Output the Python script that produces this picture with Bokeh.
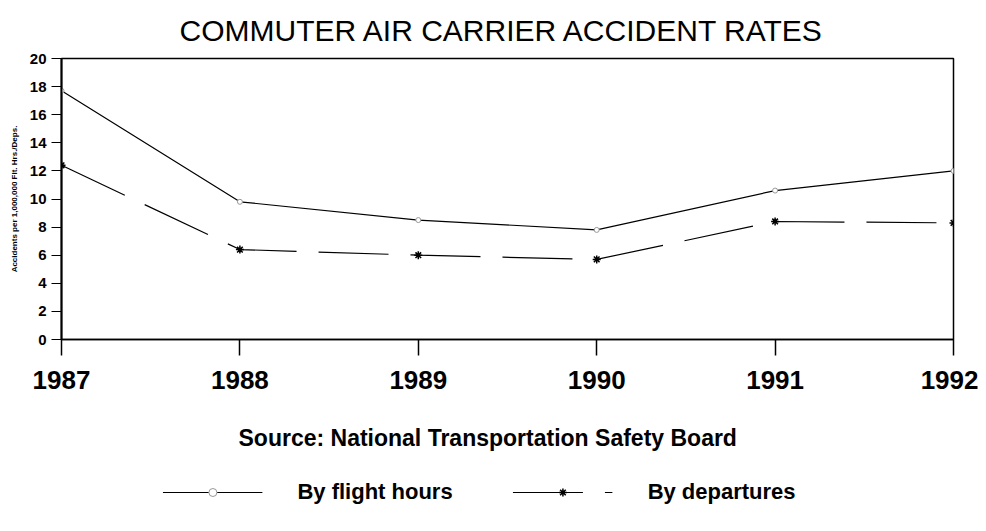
from bokeh.plotting import figure
from bokeh.layouts import column
from bokeh.models import Range1d, FixedTicker, Title, Legend, LegendItem
from bokeh.embed import file_html
from bokeh.resources import INLINE

years = [1987, 1988, 1989, 1990, 1991, 1992]
by_flight_hours = [17.7, 9.8, 8.5, 7.8, 10.6, 12.0]
by_departures = [12.4, 6.4, 6.0, 5.7, 8.4, 8.3]
y_ticks = [0, 2, 4, 6, 8, 10, 12, 14, 16, 18, 20]
series_names = ["By flight hours", "By departures"]
source_text = "Source: National Transportation Safety Board"

FONT = "Liberation Sans"

p = figure(frame_width=892, frame_height=281, output_backend="svg", toolbar_location=None,
           x_range=Range1d(1987, 1992), y_range=Range1d(0, 20),
           min_border_left=61, min_border_right=25, min_border_top=58, min_border_bottom=76)

p.title.text = "COMMUTER AIR CARRIER ACCIDENT RATES"
p.title.align = "left"
p.title.offset = 118
p.title.text_font = FONT
p.title.text_font_size = "30px"
p.title.text_line_height = 1.0
p.title.text_font_style = "normal"
p.title.text_color = "black"
p.title.standoff = 23

p.grid.visible = False
p.outline_line_color = "black"
p.outline_line_width = 1.5
p.background_fill_color = "white"
p.border_fill_color = "white"

# x axis
p.xaxis.ticker = FixedTicker(ticks=years)
p.xaxis.minor_tick_line_color = None
p.xaxis.major_tick_out = 16
p.xaxis.major_tick_in = 0
p.xaxis.major_tick_line_color = "black"
p.xaxis.major_tick_line_width = 1.5
p.xaxis.axis_line_color = "black"
p.xaxis.axis_line_width = 1.5
p.xaxis.major_label_text_font = FONT
p.xaxis.major_label_text_font_style = "bold"
p.xaxis.major_label_text_font_size = "26px"
p.xaxis.major_label_text_color = "black"
p.xaxis.major_label_standoff = 15

# y axis
p.yaxis.ticker = FixedTicker(ticks=y_ticks)
p.yaxis.minor_tick_line_color = None
p.yaxis.major_tick_out = 10
p.yaxis.major_tick_in = 0
p.yaxis.major_tick_line_color = "black"
p.yaxis.axis_line_color = "black"
p.yaxis.axis_line_width = 2
p.yaxis.major_label_text_font = FONT
p.yaxis.major_label_text_font_style = "bold"
p.yaxis.major_label_text_font_size = "15px"
p.yaxis.major_label_text_color = "black"
p.yaxis.major_label_standoff = 5
p.yaxis.axis_label = "Accidents per 1,000,000 Flt. Hrs./Deps."
p.yaxis.axis_label_text_font = FONT
p.yaxis.axis_label_text_font_style = "bold"
p.yaxis.axis_label_text_font_size = "8px"
p.yaxis.axis_label_text_color = "black"
p.yaxis.axis_label_standoff = 8


def draw_series(fig):
    a = fig.line(years, by_flight_hours, line_color="black", line_width=1.2)
    b = fig.scatter(years, by_flight_hours, marker="circle", size=5,
                    fill_color="white", line_color="#999999", line_width=1)
    c = fig.line(years, by_departures, line_color="black", line_width=1.2,
                 line_dash="70 22")
    d = fig.scatter(years, by_departures, marker="asterisk", size=8,
                    line_color="black", line_width=1.5)
    return a, b, c, d


draw_series(p)

# strip below the chart: source line + legend
# (its own series copies sit outside its view, only the legend shows them)
q = figure(width=922, height=111, output_backend="svg", toolbar_location=None,
           x_range=Range1d(0, 1), y_range=Range1d(-100, -99),
           x_axis_type=None, y_axis_type=None,
           min_border_left=0, min_border_right=0, min_border_top=0, min_border_bottom=0)
q.title.text = source_text
q.title.align = "left"
q.title.offset = 177
q.title.text_font = FONT
q.title.text_font_style = "bold"
q.title.text_font_size = "23px"
q.title.text_color = "black"
q.title.standoff = 14
q.grid.visible = False
q.outline_line_color = None
q.background_fill_color = "white"
q.border_fill_color = "white"
ql1, qm1, ql2, qm2 = draw_series(q)

legend = Legend(items=[LegendItem(label=series_names[0], renderers=[ql1, qm1]),
                       LegendItem(label=series_names[1], renderers=[ql2, qm2])],
                orientation="horizontal", location="center",
                glyph_width=100, label_standoff=35, spacing=60, margin=0, padding=10,
                label_text_font=FONT, label_text_font_style="bold",
                label_text_font_size="22px", label_text_color="black",
                border_line_color=None, background_fill_alpha=0)
q.add_layout(legend)

layout = column(p, q, spacing=0)
open("out.html", "w").write(file_html(layout, INLINE))
